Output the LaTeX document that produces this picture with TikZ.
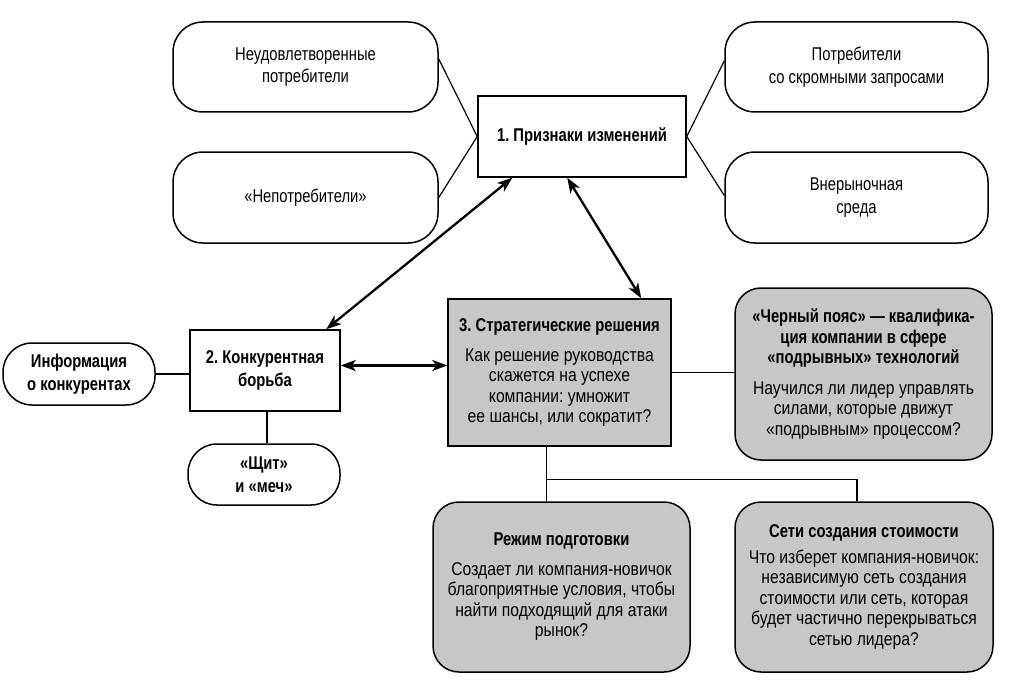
\documentclass[tikz,border=0pt]{standalone}
\usepackage{fontspec}
\setmainfont{Liberation Sans}[FakeStretch=0.8]
\newfontfamily\graybody{Liberation Sans}[FakeStretch=0.85]
\newfontfamily\graytitle{Liberation Sans}[FakeStretch=0.8]
\usetikzlibrary{arrows.meta,calc}
\begin{document}
\frenchspacing
\begin{tikzpicture}[x=1pt,y=-1pt,
  box/.style={draw, line width=1.5pt, align=center, inner sep=0pt, font=\fontsize{18.5}{20.5}\selectfont\graybody},
  wround/.style={box, rounded corners=30pt, fill=white, font=\fontsize{18.5}{22.5}\selectfont},
  wrect/.style={box, fill=white, font=\fontsize{18.5}{22.5}\selectfont\bfseries},
  grect/.style={box, fill=black!22},
  ground/.style={box, rounded corners=26pt, fill=black!22},
  pill/.style={box, rounded corners=29pt, fill=white, font=\fontsize{18.5}{22.5}\selectfont\bfseries},
  link/.style={line width=1.2pt},
  arr/.style={line width=2.3pt, {Stealth[length=15pt,width=11pt,inset=4pt]}-{Stealth[length=15pt,width=11pt,inset=4pt]}}
]
\newcommand\gtitle[1]{{\graytitle\bfseries #1}}
\fill[white] (0,0) rectangle (1029,693);
\useasboundingbox (0,0) rectangle (1029,693);

\node[wround, minimum width=265pt, minimum height=90pt] (A) at (305.5,67) {Неудовлетворенные\\потребители};
\node[wround, minimum width=265pt, minimum height=91pt] (B) at (305.5,197.5) {«Непотребители»};
\node[wrect, minimum width=208pt, minimum height=81pt] (b1) at (582,136.5) {1. Признаки изменений};
\node[wround, minimum width=263pt, minimum height=90pt] (C) at (856.5,67) {Потребители\\со скромными запросами};
\node[wround, minimum width=263pt, minimum height=91pt] (D) at (856.5,197.5) {Внерыночная\\среда};

\node[pill, minimum width=152pt, minimum height=62pt] (info) at (79,374) {Информация\\о конкурентах};
\node[wrect, minimum width=150pt, minimum height=81pt] (b2) at (265,370.5) {2. Конкурентная\\борьба};
\node[pill, minimum width=152pt, minimum height=61pt] (shield) at (264,474.5) {«Щит»\\и «меч»};

\node[grect, minimum width=223pt, minimum height=147pt] (b3) at (559.5,372.5) {\gtitle{3. Стратегические решения}\\[9pt]Как решение руководства\\скажется на успехе\\компании: умножит\\ее шансы, или сократит?};

\node[ground, minimum width=257pt, minimum height=172pt] (belt) at (863.5,374) {\gtitle{«Черный пояс» — квалифика-}\\\gtitle{ция компании в сфере}\\\gtitle{«подрывных» технологий}\\[10pt]Научился ли лидер управлять\\силами, которые движут\\«подрывным» процессом?};

\node[ground, minimum width=257pt, minimum height=170pt] (rez) at (561.5,587) {\gtitle{Режим подготовки}\\[9pt]Создает ли компания-новичок\\благоприятные условия, чтобы\\найти подходящий для атаки\\рынок?};

\node[ground, minimum width=258pt, minimum height=170pt] (net) at (864,587) {\gtitle{Сети создания стоимости}\\[5pt]Что изберет компания-новичок:\\независимую сеть создания\\стоимости или сеть, которая\\будет частично перекрываться\\сетью лидера?};

% thin links
\draw[link] ($(A.east)+(0,-8)$) -- (b1.west);
\draw[link] (B.east) -- (b1.west);
\draw[link] (b1.east) -- ($(C.west)+(0,-6)$);
\draw[link] (b1.east) -- ($(D.west)+(0,-2)$);
\draw[link] (info.east) -- (info.east -| b2.west);
\coordinate (s) at ($(b2.south)+(2,0)$);
\draw[link] (s) -- (s |- shield.north);
\draw[link] (b3.east) -- (b3.east -| belt.west);
\coordinate (j) at ($(b3.south west)+(99,0)$);
\coordinate (k) at ($(j)+(0,33)$);
\coordinate (n) at ($(net.north)+(-7,0)$);
\draw[link] (j) -- (j |- rez.north);
\draw[link] (k) -| (n);

% arrows
\draw[arr] ($(b1.south west)+(35,0)$) -- ($(b2.north west)+(137,0)$);
\draw[arr] ($(b1.south west)+(90,0)$) -- ($(b3.north west)+(194,0)$);
\draw[arr] ($(b2.east)+(0,-5)$) -- ($(b2.east -| b3.west)+(0,-5)$);
\end{tikzpicture}
\end{document}
